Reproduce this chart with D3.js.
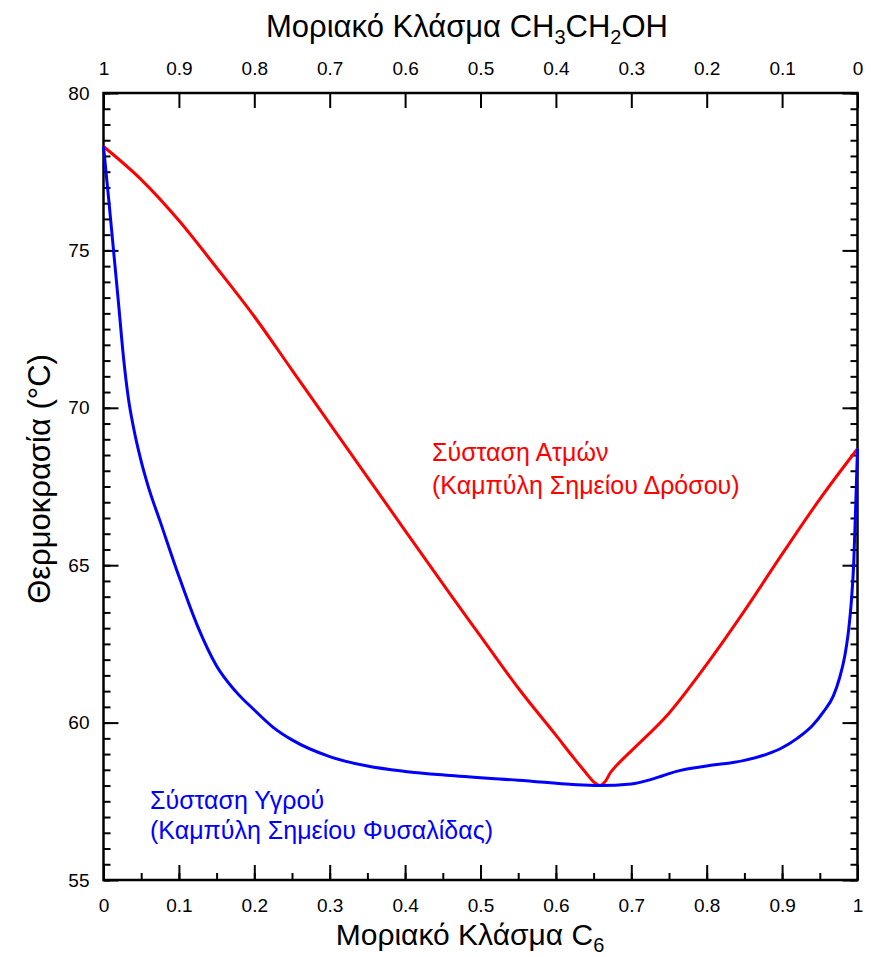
<!DOCTYPE html>
<html>
<head>
<meta charset="utf-8">
<script src="https://cdn.jsdelivr.net/npm/d3@7"></script>
<style>
  body { margin: 0; background: #fff; }
  svg text { font-family: "Liberation Sans", Arial, sans-serif; fill: #000; }
</style>
</head>
<body>
<div class="container"></div>
<script>
// vapour composition (dew point curve), x = mole fraction C6
var redX = [0, 0.05, 0.1, 0.15, 0.2, 0.25, 0.3, 0.35, 0.4, 0.46, 0.5, 0.55, 0.6, 0.623, 0.64, 0.65, 0.658, 0.666, 0.672, 0.681, 0.7, 0.75, 0.8, 0.85, 0.9, 0.95, 1.0];
var redT = [78.3, 77.25, 75.95, 74.45, 72.9, 71.2, 69.5, 67.8, 66.1, 64.07, 62.75, 61.1, 59.6, 58.9, 58.4, 58.12, 58.0, 58.15, 58.4, 58.65, 59.1, 60.3, 61.85, 63.55, 65.35, 67.1, 68.7];

// liquid composition (bubble point curve)
var blueX = [0, 0.007, 0.0133, 0.02, 0.0265, 0.033, 0.04, 0.05, 0.06, 0.075, 0.1, 0.125, 0.15, 0.175, 0.2, 0.225, 0.25, 0.3, 0.35, 0.4, 0.46, 0.55, 0.658, 0.7, 0.73, 0.76, 0.8, 0.85, 0.88, 0.9, 0.92, 0.94, 0.955, 0.968, 0.976, 0.983, 0.988, 0.992, 0.995, 0.998, 1.0];
var blueT = [78.3, 76.6, 75.0, 73.3, 71.6, 70.3, 69.35, 68.3, 67.45, 66.4, 64.65, 63.05, 61.8, 61.0, 60.4, 59.85, 59.45, 58.92, 58.62, 58.45, 58.32, 58.17, 58.0, 58.05, 58.22, 58.45, 58.62, 58.8, 59.0, 59.2, 59.5, 59.9, 60.35, 60.85, 61.4, 62.1, 62.9, 63.9, 65.06, 67.18, 68.7];

var xTicks = [0, 0.1, 0.2, 0.3, 0.4, 0.5, 0.6, 0.7, 0.8, 0.9, 1];
var yTicks = [55, 60, 65, 70, 75, 80];

var width = 877, height = 957;
// note: "top" clashes with window.top, so use prefixed names
var pLeft = 103.5, pRight = 857.5, pTop = 93, pBottom = 880;

var svg = d3.select(".container")
    .append("svg")
    .attr("width", width)
    .attr("height", height);

var x = d3.scaleLinear().domain([0, 1]).range([pLeft, pRight]);
var y = d3.scaleLinear().domain([55, 80]).range([pBottom, pTop]);

// minor tick values
var xMinor = d3.range(0, 21).map(function(i) { return i / 20; });
var yMinor = d3.range(0, 51).map(function(i) { return 55 + i / 2; });

function fmt(d) { return String(+d.toFixed(1)); }

// bottom axis
svg.append("g").attr("transform", "translate(0," + pBottom + ")")
    .call(d3.axisBottom(x).tickValues(xMinor).tickSize(-7).tickFormat(""));
svg.append("g").attr("class", "lab").attr("transform", "translate(0," + pBottom + ")")
    .call(d3.axisBottom(x).tickValues(xTicks).tickSize(-15).tickPadding(19).tickFormat(fmt));

// top axis (ethanol = 1 - C6)
svg.append("g").attr("class", "lab").attr("transform", "translate(0," + pTop + ")")
    .call(d3.axisTop(x).tickValues(xTicks).tickSize(-15).tickPadding(18)
        .tickFormat(function(d) { return fmt(1 - d); }));

// left axis
svg.append("g").attr("transform", "translate(" + pLeft + ",0)")
    .call(d3.axisLeft(y).tickValues(yMinor).tickSize(-7).tickFormat(""));
svg.append("g").attr("class", "lab").attr("transform", "translate(" + pLeft + ",0)")
    .call(d3.axisLeft(y).tickValues(yTicks).tickSize(-15).tickPadding(14).tickFormat(d3.format("d")));

// right axis
svg.append("g").attr("transform", "translate(" + pRight + ",0)")
    .call(d3.axisRight(y).tickValues(yMinor).tickSize(-7).tickFormat(""));
svg.append("g").attr("transform", "translate(" + pRight + ",0)")
    .call(d3.axisRight(y).tickValues(yTicks).tickSize(-15).tickFormat(""));

svg.selectAll(".domain").remove();
svg.selectAll(".tick line").attr("stroke", "#000").attr("stroke-width", 2);
svg.selectAll(".lab").attr("font-size", null).attr("font-family", null);
svg.selectAll(".lab text").style("font-size", "19px");

// frame
svg.append("rect")
    .attr("x", pLeft).attr("y", pTop)
    .attr("width", pRight - pLeft).attr("height", pBottom - pTop)
    .attr("fill", "none").attr("stroke", "#000").attr("stroke-width", 2.5);

// curves
var line = d3.line()
    .x(function(d) { return x(d[0]); })
    .y(function(d) { return y(d[1]); })
    .curve(d3.curveMonotoneX);

var redData = redX.map(function(v, i) { return [v, redT[i]]; });
var blueData = blueX.map(function(v, i) { return [v, blueT[i]]; });

svg.append("path").datum(redData)
    .attr("d", line).attr("fill", "none")
    .attr("stroke", "#ff0000").attr("stroke-width", 3);

svg.append("path").datum(blueData)
    .attr("d", line).attr("fill", "none")
    .attr("stroke", "#0000ff").attr("stroke-width", 3);

// curve labels
var redLab = svg.append("text").attr("x", 432).attr("y", 461)
    .style("font-size", "25px").style("fill", "#ff0000");
redLab.append("tspan").attr("x", 432).text("Σύσταση Ατμών");
redLab.append("tspan").attr("x", 432).attr("dy", 33).text("(Καμπύλη Σημείου Δρόσου)");

var blueLab = svg.append("text").attr("x", 150).attr("y", 809)
    .style("font-size", "25px").style("fill", "#0000ff");
blueLab.append("tspan").attr("x", 150).text("Σύσταση Υγρού");
blueLab.append("tspan").attr("x", 150).attr("dy", 30).text("(Καμπύλη Σημείου Φυσαλίδας)");

// axis titles
var topTitle = svg.append("text").attr("x", 467).attr("y", 37)
    .attr("text-anchor", "middle").style("font-size", "31px");
topTitle.append("tspan").text("Μοριακό Κλάσμα CH");
topTitle.append("tspan").attr("dy", 7).style("font-size", "20px").text("3");
topTitle.append("tspan").attr("dy", -7).text("CH");
topTitle.append("tspan").attr("dy", 7).style("font-size", "20px").text("2");
topTitle.append("tspan").attr("dy", -7).text("OH");

var botTitle = svg.append("text").attr("x", 470).attr("y", 945)
    .attr("text-anchor", "middle").style("font-size", "30px");
botTitle.append("tspan").text("Μοριακό Κλάσμα C");
botTitle.append("tspan").attr("dy", 7).style("font-size", "20px").text("6");

svg.append("text")
    .attr("transform", "translate(50,479) rotate(-90)")
    .attr("text-anchor", "middle").style("font-size", "31px")
    .text("Θερμοκρασία (°C)");
</script>
</body>
</html>
